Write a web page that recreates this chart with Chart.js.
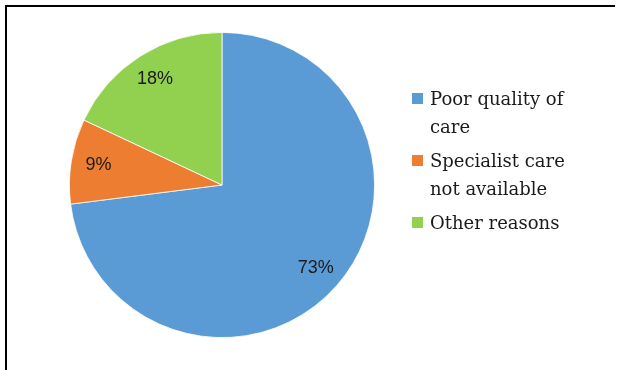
<!DOCTYPE html>
<html>
<head>
<meta charset="utf-8">
<script src="https://cdn.jsdelivr.net/npm/chart.js@4/dist/chart.umd.min.js"></script>
<style>
  html, body { margin: 0; padding: 0; background: #fff; }
  #wrap { position: relative; width: 641px; height: 370px; }
  #frame {
    position: absolute; left: 5px; top: 5px; width: 608px; height: 370px;
    border-top: 2px solid #000; border-left: 2px solid #000;
  }
  canvas { position: absolute; left: 0; top: 0; }
</style>
</head>
<body>
<div id="wrap">
  <div id="frame"></div>
  <canvas id="chart" width="641" height="370"></canvas>
</div>
<script>
const labels = [
  ["Poor quality of", "care"],
  ["Specialist care", "not available"],
  ["Other reasons"],
];
const values = [73, 9, 18];
const colors = ["#5B9BD5", "#ED7D31", "#92D050"];

// percent labels drawn inside each slice
const sliceLabels = {
  id: "sliceLabels",
  afterDatasetsDraw(chart) {
    const ctx = chart.ctx;
    const meta = chart.getDatasetMeta(0);
    const total = values.reduce((a, b) => a + b, 0);
    ctx.save();
    ctx.font = '18px "Liberation Sans", sans-serif';
    ctx.fillStyle = "#1b1b1b";
    ctx.textAlign = "center";
    ctx.textBaseline = "middle";
    meta.data.forEach((arc, i) => {
      const mid = (arc.startAngle + arc.endAngle) / 2;
      const r = arc.outerRadius * 0.82;
      const x = arc.x + Math.cos(mid) * r;
      const y = arc.y + Math.sin(mid) * r;
      ctx.fillText(Math.round((values[i] / total) * 100) + "%", x, y);
    });
    ctx.restore();
  },
};

// legend with wrapped lines, placed right of the pie
const sideLegend = {
  id: "sideLegend",
  afterDraw(chart) {
    const ctx = chart.ctx;
    const left = chart.chartArea.right + 37;
    let y = 105;
    ctx.save();
    ctx.font = '18px "DejaVu Serif", serif';
    ctx.textBaseline = "alphabetic";
    ctx.textAlign = "left";
    labels.forEach((lines, i) => {
      ctx.fillStyle = colors[i];
      ctx.fillRect(left, y - 12, 11, 11);
      ctx.fillStyle = "#1b1b1b";
      lines.forEach((line, j) => {
        ctx.fillText(line, left + 18, y + j * 28);
      });
      y += (lines.length - 1) * 28 + 34;
    });
    ctx.restore();
  },
};

new Chart(document.getElementById("chart"), {
  type: "pie",
  data: {
    labels: labels,
    datasets: [
      {
        data: values,
        backgroundColor: colors,
        borderColor: "#ffffff",
        borderWidth: 0.8,
      },
    ],
  },
  options: {
    responsive: false,
    animation: false,
    layout: {
      padding: { left: 69, right: 266, top: 32, bottom: 32 },
    },
    plugins: {
      legend: { display: false },
      tooltip: { enabled: false },
    },
  },
  plugins: [sliceLabels, sideLegend],
});
</script>
</body>
</html>
